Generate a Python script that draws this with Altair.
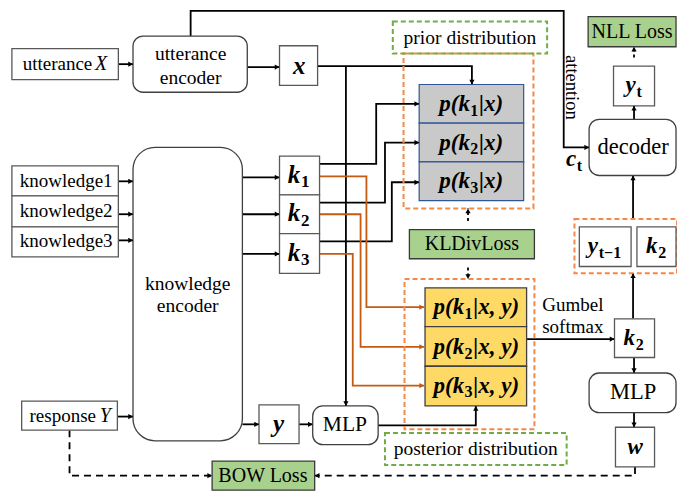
import altair as alt
import pandas as pd

# ---------------- data (image pixel coordinates of the diagram) ----------------
# plain white boxes
box_x1 = [4, 278, 4, 4, 4, 278, 278, 278, 14, 257, 620, 585, 644, 621, 622]
box_y1 = [42, 39, 163, 194, 226, 153, 193, 233, 406, 410, 60, 226, 226, 321, 433]
box_x2 = [113, 317, 113, 113, 113, 319, 319, 319, 112, 298, 662, 638, 684, 662, 662]
box_y2 = [74, 80, 194, 226, 257, 193, 233, 274, 436, 450, 101, 267, 267, 361, 474]

# rounded boxes: utterance encoder, MLP (mid), MLP (right), decoder
rbox_x1 = [128, 312, 595, 595]
rbox_y1 = [29, 411, 377, 115]
rbox_x2 = [245, 379, 684, 684]
rbox_y2 = [87, 451, 418, 173]
# knowledge encoder (large radius)
kenc = [128, 144, 240, 447]

# green loss boxes: NLL, KLDiv, BOW
loss_x1 = [594, 411, 209]
loss_y1 = [9, 229, 468]
loss_x2 = [684, 539, 314]
loss_y2 = [40, 259, 498]

# prior rows (grey) and posterior rows (yellow)
prior_x = [421, 528]
prior_rows = [79, 119, 159, 199]
post_x = [427, 531]
post_rows = [289, 329, 370, 411]

# dashed frames
green_x1 = [394, 386]
green_y1 = [14, 439]
green_x2 = [552, 572]
green_y2 = [47, 472]
orange_x1 = [405, 406, 580]
orange_y1 = [47, 280, 218]
orange_x2 = [538, 539, 685]
orange_y2 = [207, 435, 274]

# connectors: polylines (x list, y list, kind)
path_x = [
    [113, 128], [245, 278], [187, 187, 569, 569, 595],
    [317, 475, 475], [346, 346],
    [319, 377, 377, 421], [319, 386, 386, 421], [319, 393, 393, 421],
    [113, 128], [113, 128], [113, 128],
    [240, 278], [240, 278], [240, 278],
    [112, 128], [240, 257], [298, 312], [379, 479, 479],
    [531, 621], [640, 640], [641, 641], [641, 641], [640, 640], [641, 641],
    [319, 367, 367, 426], [319, 361, 361, 426], [319, 353, 353, 426],
    [63, 63, 209], [642, 642, 314],
    [471, 471], [471, 471], [641, 641],
]
path_y = [
    [58, 58], [61, 61], [29, 3, 3, 144, 144],
    [60, 60, 79], [60, 411],
    [161, 161, 99, 99], [201, 201, 139, 139], [241, 241, 180, 180],
    [179, 179], [213, 213], [240, 240],
    [175, 175], [213, 213], [254, 254],
    [422, 422], [430, 430], [430, 430], [431, 431, 411],
    [342, 342], [321, 274], [361, 377], [418, 433], [218, 173], [115, 101],
    [174, 174, 309, 309], [213, 213, 350, 350], [254, 254, 390, 390],
    [436, 483, 483], [474, 483, 483],
    [220, 207], [268, 280], [51, 40],
]
path_kind = (["solid"] * 24 + ["orange"] * 3 + ["dash"] * 2 + ["dot"] * 3)

# plain serif labels
lab_text = ["utterance", "utterance", "encoder", "knowledge1", "knowledge2", "knowledge3",
            "knowledge", "encoder", "response", "MLP", "MLP", "decoder", "NLL Loss",
            "KLDivLoss", "BOW Loss", "prior distribution", "posterior distribution",
            "Gumbel", "softmax"]
lab_x = [15, 187, 187, 12, 12, 12, 184, 184, 22, 345, 640, 640, 639, 475, 261, 473, 479, 547, 547]
lab_y = [58, 48, 72, 179, 210, 241, 285, 308, 421, 431, 397, 144, 25, 244, 483, 31, 456, 307, 329]
lab_size = [19, 19.5, 19.5, 19, 19, 19, 19.5, 19.5, 19, 21.5, 22.5, 22.5, 20, 20, 20, 19.5, 19.5, 19, 19]
lab_align = ["left", "center", "center", "left", "left", "left", "center", "center", "left",
             "center", "center", "center", "center", "center", "center", "center", "center",
             "left", "left"]
ital_text = ["X", "Y"]
ital_x = [89, 94]
ital_y = [58, 421]

# math labels: base, subscript, tail, centre x, centre y, size
math_base = ["x", "k", "k", "k", "y", "p(k", "p(k", "p(k", "p(k", "p(k", "p(k",
             "y", "y", "k", "k", "w", "c"]
math_sub = ["", "1", "2", "3", "", "1", "2", "3", "1", "2", "3", "t", "t\u22121", "2", "2", "", "t"]
math_tail = ["", "", "", "", "", "|x)", "|x)", "|x)", "|x, y)", "|x, y)", "|x, y)",
             "", "", "", "", "", ""]
math_cx = [298, 298, 298, 298, 277, 474, 474, 474, 479, 479, 479, 641, 611, 664, 641, 642, 580]
math_cy = [60, 172, 212, 253, 430, 99, 139, 179, 309, 350, 390, 80, 246, 246, 341, 453, 156]
math_size = [25, 25, 25, 25, 25, 23, 23, 23, 23, 23, 23, 23, 23, 23, 23, 23, 23]

# ---------------- build tables ----------------
W, H = 685, 503
xs = alt.Scale(domain=[0, W], nice=False, zero=False)
ys = alt.Scale(domain=[0, H], nice=False, zero=False, reverse=True)
serif = "Liberation Serif"


def X(f):
    return alt.X(f, type="quantitative", scale=xs, axis=None)


def Y(f):
    return alt.Y(f, type="quantitative", scale=ys, axis=None)


def rect_df(x1, y1, x2, y2):
    return pd.DataFrame({"x1": x1, "y1": y1, "x2": x2, "y2": y2})


def rect_layer(df, **mk):
    return alt.Chart(df).mark_rect(**mk).encode(
        x=X("x1"), x2="x2", y=Y("y1"), y2="y2")


plain = rect_layer(rect_df(box_x1, box_y1, box_x2, box_y2),
                   fill="white", stroke="#595959", strokeWidth=1.3)
rounded = rect_layer(rect_df(rbox_x1, rbox_y1, rbox_x2, rbox_y2),
                     fill="white", stroke="#404040", strokeWidth=1.3, cornerRadius=10)
kenc_l = rect_layer(rect_df([kenc[0]], [kenc[1]], [kenc[2]], [kenc[3]]),
                    fill="white", stroke="#404040", strokeWidth=1.3, cornerRadius=22)
loss = rect_layer(rect_df(loss_x1, loss_y1, loss_x2, loss_y2),
                  fill="#a9d18e", stroke="#3a3a3a", strokeWidth=1.3)
prior = rect_layer(rect_df([prior_x[0]] * 3, prior_rows[:-1], [prior_x[1]] * 3, prior_rows[1:]),
                   fill="#c9c9c9", stroke="#2f5597", strokeWidth=1.2)
post = rect_layer(rect_df([post_x[0]] * 3, post_rows[:-1], [post_x[1]] * 3, post_rows[1:]),
                  fill="#ffd966", stroke="#404040", strokeWidth=1.3)
gframe = rect_layer(rect_df(green_x1, green_y1, green_x2, green_y2),
                    fill="white", fillOpacity=0, stroke="#70ad47", strokeWidth=2,
                    strokeDash=[5, 3])
oframe = rect_layer(rect_df(orange_x1, orange_y1, orange_x2, orange_y2),
                    fill="white", fillOpacity=0, stroke="#f4894a", strokeWidth=2,
                    strokeDash=[5, 3])

kind_color = {"solid": "black", "orange": "#c55a11", "dash": "black", "dot": "black"}
rows, heads = [], []
for i, (px, py, k) in enumerate(zip(path_x, path_y, path_kind)):
    for j, (a, b) in enumerate(zip(px, py)):
        rows.append({"pid": i, "seq": j, "x": a, "y": b, "kind": k})
    dx, dy = px[-1] - px[-2], py[-1] - py[-2]
    ang = 0 if dx > 0 else 180 if dx < 0 else 90 if dy > 0 else 270
    heads.append({"x": px[-1], "y": py[-1], "ang": ang, "col": kind_color[k]})
pdf = pd.DataFrame(rows)
hdf = pd.DataFrame(heads)


def line_layer(kind, **mk):
    return alt.Chart(pdf[pdf.kind == kind]).mark_line(**mk).encode(
        x=X("x"), y=Y("y"), detail="pid:N", order="seq:Q")


lines = [
    line_layer("solid", color="black", strokeWidth=1.8, strokeJoin="miter"),
    line_layer("orange", color="#c55a11", strokeWidth=1.8, strokeJoin="miter"),
    line_layer("dash", color="black", strokeWidth=1.8, strokeDash=[7, 5]),
    line_layer("dot", color="black", strokeWidth=1.8, strokeDash=[3, 3]),
]
arrows = alt.Chart(hdf).mark_point(
    shape="M0,0L-1,-0.55L-1,0.55Z", filled=True, size=90, opacity=1).encode(
    x=X("x"), y=Y("y"), angle=alt.Angle("ang:Q", scale=None),
    color=alt.Color("col:N", scale=None))

labdf = pd.DataFrame({"t": lab_text, "x": lab_x, "y": lab_y, "s": lab_size, "a": lab_align})


def text_layer(df, **mk):
    return alt.Chart(df).mark_text(baseline="middle", color="black", **mk).encode(
        x=X("x"), y=Y("y"), text="t:N", size=alt.Size("s:Q", scale=None))


txt = [text_layer(labdf[labdf.a == a], font=serif, align=a) for a in ["left", "center"]]
txt.append(text_layer(pd.DataFrame({"t": ital_text, "x": ital_x, "y": ital_y, "s": [20, 20]}),
                      font=serif, fontStyle="italic", align="left"))
txt.append(alt.Chart(pd.DataFrame({"t": ["attention"], "x": [578], "y": [82]})).mark_text(
    font=serif, fontSize=18.5, angle=90, align="center", baseline="middle", color="black").encode(
    x=X("x"), y=Y("y"), text="t:N"))

# math label parts
wbi = {"p": 500, "(": 333, ")": 333, "k": 500, "|": 220, "x": 500, ",": 250, " ": 250,
       "y": 444, "t": 278, "c": 444, "w": 667}
wsub = {"1": 500, "2": 500, "3": 500, "t": 333, "\u2212": 570}
mparts, sparts = [], []
for b, s, t, cx, cy, z in zip(math_base, math_sub, math_tail, math_cx, math_cy, math_size):
    zs = round(z * 0.68)
    wb = sum(wbi[c] for c in b) * z / 1000
    ws = sum(wsub[c] for c in s) * zs / 1000
    wt = sum(wbi[c] for c in t) * z / 1000
    x0 = cx - (wb + ws + wt + (2 if s else 0)) / 2
    mparts.append({"t": b, "x": x0, "y": cy, "s": z})
    if s:
        sparts.append({"t": s, "x": x0 + wb + 1, "y": cy + 0.3 * z, "s": zs})
    if t:
        mparts.append({"t": t, "x": x0 + wb + ws + 2, "y": cy, "s": z})
txt.append(text_layer(pd.DataFrame(mparts), font=serif, fontStyle="italic",
                      fontWeight="bold", align="left"))
txt.append(text_layer(pd.DataFrame(sparts), font=serif, fontWeight="bold", align="left"))

chart = alt.layer(
    *lines, oframe, gframe, plain, rounded, kenc_l, loss, prior, post, arrows, *txt
).properties(width=669, height=487, padding=0, autosize="none").configure_view(
    stroke=None).configure_text(font=serif)

chart.save("out.html", embed_options={"renderer": "svg", "actions": False})
